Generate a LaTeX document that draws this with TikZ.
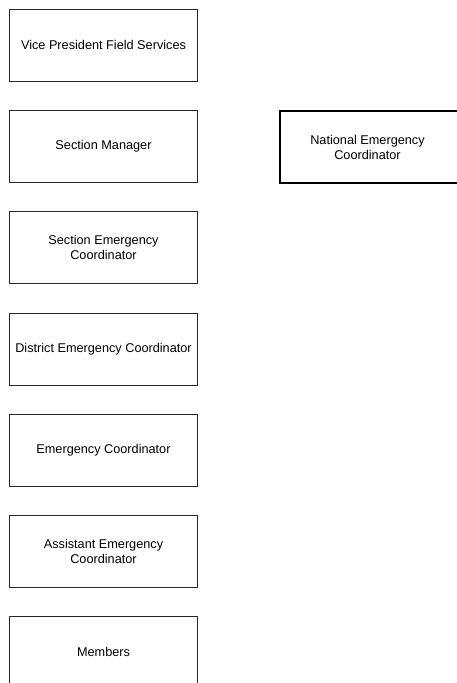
\documentclass[tikz,border=0pt]{standalone}
\usepackage{fontspec}
\setmainfont{Liberation Sans}
\begin{document}
\begin{tikzpicture}[x=1pt,y=-1pt,
  txt/.style={align=center,font=\fontsize{12.7}{15}\selectfont},
  box/.style={txt,draw=black!85,line width=0.9pt,minimum width=188pt,minimum height=72pt,inner sep=0pt},
  nbox/.style={draw=black,line width=2pt,minimum width=184pt,minimum height=72pt,inner sep=0pt}]
\useasboundingbox (0,0) rectangle (457,683);
\node[box] (vp) at (103.5,45) {Vice President Field Services};
\node[box] (sm) at (103.5,146) {Section Manager};
\node[box] (sec) at (103.5,247) {Section Emergency\\Coordinator};
\node[box] (dec) at (103.5,349) {District Emergency Coordinator};
\node[box] (ec) at (103.5,450) {Emergency Coordinator};
\node[box] (aec) at (103.5,551) {Assistant Emergency\\Coordinator};
\node[box] (mem) at (103.5,652) {Members};
\node[nbox,label={[txt,xshift=-4.5pt,yshift=-1pt]center:{National Emergency\\Coordinator}}] (nec) at (372,146.5) {};
\end{tikzpicture}
\end{document}
